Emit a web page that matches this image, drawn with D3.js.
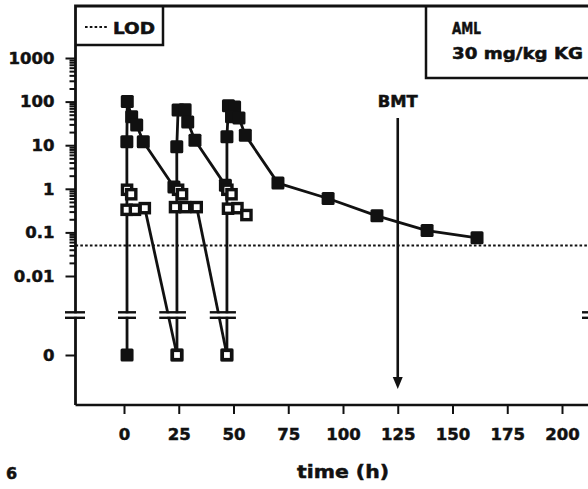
<!DOCTYPE html>
<html>
<head>
<meta charset="utf-8">
<script src="https://cdn.jsdelivr.net/npm/d3@7"></script>
<style>
  html, body { margin: 0; padding: 0; background: #fff; }
  svg { display: block; font-family: "DejaVu Sans", sans-serif; font-weight: bold; }
  svg text { stroke: #111; stroke-width: 0.5px; paint-order: stroke; }
</style>
</head>
<body>
<svg id="chart" width="588" height="489"></svg>
<script>
// Plasma levels after three 30 mg/kg doses (AML patient), log scale with
// a separate "0" row for samples below detection.

// filled squares: parent drug, one polyline per dosing cycle  [time h, level]
const filledCycle1 = [[1.4, 0], [1.3, 12], [1.5, 100], [3.5, 45], [5.8, 29], [8.8, 12], [22.8, 1.1]];
const filledCycle2 = [[24.2, 0], [24.1, 9.2], [24.7, 64], [27.9, 65], [29.1, 34], [32.4, 13], [46.3, 1.2]];
const filledCycle3 = [[47, 0], [47, 15.6], [47.7, 80], [50.5, 75], [49.1, 45], [52.5, 42], [55.4, 17],
                      [70.3, 1.35], [93.2, 0.6], [115.5, 0.24], [138.4, 0.11], [161.2, 0.075]];

// open squares: metabolite
const openPoints = [[1.4, 0.95], [3.3, 0.75], [1.2, 0.33], [5, 0.33], [9.5, 0.36],
                    [24.7, 0.95], [26.5, 0.75], [23.3, 0.38], [27.9, 0.38], [33.2, 0.38],
                    [47.2, 0.95], [49.1, 0.75], [47.5, 0.35], [51.8, 0.36], [55.9, 0.25],
                    [24.2, 0], [47, 0]];
// metabolite decline to the next trough
const openDecline1 = [[9.5, 0.36], [24.2, 0]];
const openDecline2 = [[33.2, 0.38], [47, 0]];

const lodLevel = 0.05;
const bmtTime = 125;

const xTicks = [0, 25, 50, 75, 100, 125, 150, 175, 200];
const yMajor = [1000, 100, 10, 1, 0.1, 0.01];
const yMajorLabels = ["1000", "100", "10", "1", "0.1", "0.01"];

// ---- layout ----
const L = 75.5, T = 6, B = 405, R = 600;
const ink = "#111";
const svg = d3.select("#chart");

const x = d3.scaleLinear().domain([0, 200]).range([124, 562]);
const yLog = d3.scaleLog().domain([0.01, 1000]).range([276, 58]);
const yZero = d3.scaleLinear().domain([0, 1]).range([355, 313]);
const yOf = v => v === 0 ? yZero(0) : yLog(v);
const breakTop = 312.3, breakBot = 317.8;

// ---- frame ----
svg.append("path")
  .attr("d", `M${L},${B} V${T} H${R}`)
  .attr("fill", "none").attr("stroke", ink).attr("stroke-width", 2.8);
svg.append("line")
  .attr("x1", L).attr("x2", R).attr("y1", B).attr("y2", B)
  .attr("stroke", ink).attr("stroke-width", 2.5);

// legend box (LOD)
svg.append("path")
  .attr("d", `M${L},45 H163 V${T}`)
  .attr("fill", "none").attr("stroke", ink).attr("stroke-width", 2.5);
svg.append("line")
  .attr("x1", 85).attr("x2", 107).attr("y1", 27).attr("y2", 27)
  .attr("stroke", ink).attr("stroke-width", 2.2).attr("stroke-dasharray", "2.6,2.2");
svg.append("text").attr("x", 113).attr("y", 33.5)
  .attr("font-size", 15).attr("textLength", 42).attr("lengthAdjust", "spacingAndGlyphs")
  .attr("fill", ink).text("LOD");

// label box (top right)
svg.append("path")
  .attr("d", `M426,${T} V78 H${R}`)
  .attr("fill", "none").attr("stroke", ink).attr("stroke-width", 2.5);
svg.append("text").attr("x", 452).attr("y", 33.5)
  .attr("font-size", 15).attr("textLength", 29).attr("lengthAdjust", "spacingAndGlyphs")
  .attr("fill", ink).text("AML");
svg.append("text").attr("x", 452).attr("y", 58.5)
  .attr("font-size", 15).attr("textLength", 131).attr("lengthAdjust", "spacingAndGlyphs")
  .attr("fill", ink).text("30 mg/kg KG");

// ---- y axis ----
const yMinor = [];
for (let e = -2; e < 3; e++) for (let m = 2; m <= 9; m++) yMinor.push(m * Math.pow(10, e));

const majorAxis = d3.axisLeft(yLog).tickValues(yMajor)
  .tickFormat((d, i) => yMajorLabels[i]).tickSize(10).tickSizeOuter(0).tickPadding(11);
const gY = svg.append("g").attr("transform", `translate(${L},0)`).call(majorAxis);
const minorAxis = d3.axisLeft(yLog).tickValues(yMinor).tickFormat("").tickSize(6).tickSizeOuter(0);
const gYm = svg.append("g").attr("transform", `translate(${L},0)`).call(minorAxis);
const zeroAxis = d3.axisLeft(yZero).tickValues([0]).tickFormat(() => "0")
  .tickSize(10).tickSizeOuter(0).tickPadding(11);
const gY0 = svg.append("g").attr("transform", `translate(${L},0)`).call(zeroAxis);

[gY, gYm, gY0].forEach(g => {
  g.select(".domain").remove();
  g.selectAll(".tick line").attr("stroke", ink).attr("stroke-width", 2);
  g.selectAll(".tick text").attr("fill", ink).attr("font-size", 16.5)
    .attr("font-family", "DejaVu Sans").attr("font-weight", "bold");
});

// ---- x axis ----
const gX = svg.append("g").attr("transform", `translate(0,${B})`)
  .call(d3.axisBottom(x).tickValues(xTicks).tickSize(9).tickSizeOuter(0));
gX.select(".domain").remove();
gX.selectAll(".tick line").attr("stroke", ink).attr("stroke-width", 2).attr("y1", 1);
gX.selectAll(".tick text").attr("fill", ink).attr("font-size", 16.5)
  .attr("font-family", "DejaVu Sans").attr("font-weight", "bold")
  .attr("y", 23).attr("dy", "0.71em");

svg.append("text").attr("x", x(100)).attr("y", 478).attr("text-anchor", "middle")
  .attr("font-size", 18).attr("textLength", 92).attr("lengthAdjust", "spacingAndGlyphs")
  .attr("fill", ink).text("time (h)");
svg.append("text").attr("x", 6).attr("y", 479)
  .attr("font-size", 16).attr("fill", ink).text("6");

// ---- limit of detection ----
svg.append("line")
  .attr("x1", L).attr("x2", R).attr("y1", yLog(lodLevel)).attr("y2", yLog(lodLevel))
  .attr("stroke", ink).attr("stroke-width", 2.2).attr("stroke-dasharray", "2.6,2.2");

// ---- BMT arrow ----
const bx = x(bmtTime);
svg.append("line").attr("x1", bx).attr("x2", bx).attr("y1", 118).attr("y2", 380)
  .attr("stroke", ink).attr("stroke-width", 2.6);
svg.append("path").attr("d", `M${bx - 5},377 L${bx + 5},377 L${bx},389 Z`).attr("fill", ink);
svg.append("text").attr("x", bx - 20).attr("y", 106.5)
  .attr("font-size", 15).attr("textLength", 40).attr("lengthAdjust", "spacingAndGlyphs")
  .attr("fill", ink).text("BMT");

// ---- data lines ----
const line = d3.line().x(d => x(d[0])).y(d => yOf(d[1]));
const paths = [filledCycle1, filledCycle2, filledCycle3, openDecline1, openDecline2];
svg.append("g").selectAll("path").data(paths).join("path")
  .attr("d", line).attr("fill", "none")
  .attr("stroke", ink).attr("stroke-width", 2.8).attr("stroke-linejoin", "round");

// ---- axis breaks (y axis, right edge, and each data line crossing the gap) ----
const midBreak = (breakTop + breakBot) / 2;
const crossings = [];
paths.forEach(p => {
  for (let i = 1; i < p.length; i++) {
    const y1 = yOf(p[i - 1][1]), y2 = yOf(p[i][1]);
    if ((y1 - midBreak) * (y2 - midBreak) < 0) {
      const f = (midBreak - y1) / (y2 - y1);
      crossings.push(x(p[i - 1][0]) + f * (x(p[i][0]) - x(p[i - 1][0])));
    }
  }
});
crossings.sort((a, b) => a - b);
const spans = [];
crossings.forEach(cx => {
  const last = spans[spans.length - 1];
  if (last && cx - last[1] < 20) last[1] = cx; else spans.push([cx, cx]);
});
const breakSpans = [[65, 85]].concat(spans.map(s => [s[0] - 9, s[1] + 9])).concat([[582, R]]);
const gB = svg.append("g");
breakSpans.forEach(s => {
  gB.append("rect").attr("x", s[0] + 1).attr("width", s[1] - s[0] - 2)
    .attr("y", breakTop + 1).attr("height", breakBot - breakTop - 2).attr("fill", "#fff");
  [breakTop, breakBot].forEach(by => gB.append("line")
    .attr("x1", s[0]).attr("x2", s[1]).attr("y1", by).attr("y2", by)
    .attr("stroke", ink).attr("stroke-width", 2.4));
});

// ---- markers ----
const allFilled = filledCycle1.concat(filledCycle2, filledCycle3);
const fs = 13;
svg.append("g").selectAll("rect").data(allFilled).join("rect")
  .attr("x", d => x(d[0]) - fs / 2).attr("y", d => yOf(d[1]) - fs / 2)
  .attr("width", fs).attr("height", fs).attr("rx", 1.5)
  .attr("fill", ink);
const os = 9.2;
svg.append("g").selectAll("rect").data(openPoints).join("rect")
  .attr("x", d => x(d[0]) - os / 2).attr("y", d => yOf(d[1]) - os / 2)
  .attr("width", os).attr("height", os)
  .attr("fill", "#fff").attr("stroke", ink).attr("stroke-width", 3.4);
</script>
</body>
</html>
